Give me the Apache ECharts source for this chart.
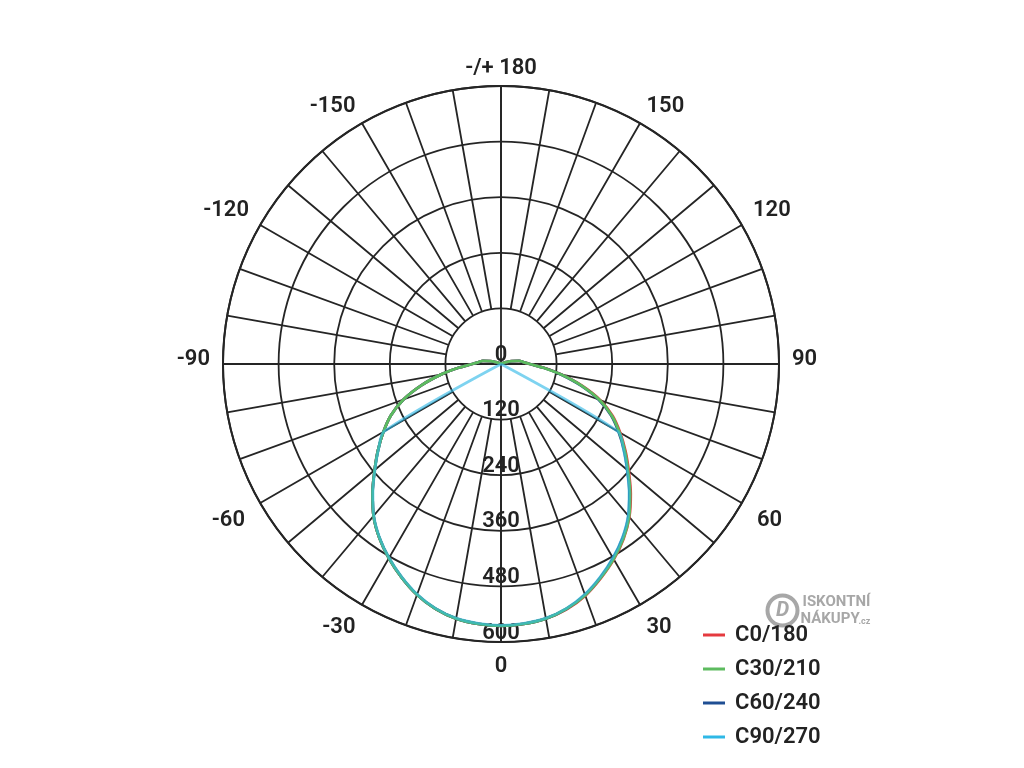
<!DOCTYPE html>
<html>
<head>
<meta charset="utf-8">
<script src="https://cdn.jsdelivr.net/npm/echarts@6/dist/echarts.min.js"></script>
<style>
  html, body { margin: 0; padding: 0; background: #fff; }
  #chart { width: 1024px; height: 768px; }
</style>
</head>
<body>
<div id="chart"></div>
<script>
// Gamma angles (degrees) from -180 to 180, step 5
const gammaAngles = [-180,-175,-170,-165,-160,-155,-150,-145,-140,-135,-130,-125,-120,-115,-110,-105,-100,-95,-90,-85,-80,-75,-70,-65,-60,-55,-50,-45,-40,-35,-30,-25,-20,-15,-10,-5,
  0,5,10,15,20,25,30,35,40,45,50,55,60,65,70,75,80,85,90,95,100,105,110,115,120,125,130,135,140,145,150,155,160,165,170,175,180];

// Luminous intensity (cd) per plane
const c0_180 = [0,0,0,0,0,0,0,0,0,0,0,1,3,6,12,24,40,48,62,92,132,178,224,262,293,324,356,392,428,458,484,508,530,547,558,563,
  565,563,558,548,532,510,487,461,431,396,360,328,297,266,228,181,134,93,62,48,40,24,12,6,3,1,0,0,0,0,0,0,0,0,0,0,0];
const c30_210 = [0,0,0,0,0,0,0,0,0,0,0,1,3,6,12,24,40,48,62,92,132,178,224,262,293,324,356,392,428,458,484,508,530,547,558,563,
  565,563,558,547,531,509,486,460,430,394,358,326,295,264,226,180,133,92,62,48,40,24,12,6,3,1,0,0,0,0,0,0,0,0,0,0,0];
const c60_240 = [0,0,0,0,0,0,0,0,0,0,0,1,3,6,12,24,40,48,62,92,132,178,224,262,293,324,356,392,428,458,484,508,530,547,558,563,
  565,563,558,547,530,508,484,458,428,392,356,324,293,262,224,178,132,92,62,48,40,24,12,6,3,1,0,0,0,0,0,0,0,0,0,0,0];
const c90_270 = [0,0,0,0,0,0,0,0,0,0,0,0,0,0,0,0,0,0,0,0,0,0,0,0,291,323,355,391,427,457,483,507,529,546,557,562,
  564,562,557,546,529,507,483,457,427,391,355,323,291,0,0,0,0,0,0,0,0,0,0,0,0,0,0,0,0,0,0,0,0,0,0,0,0];

const seriesNames = ['C0/180', 'C30/210', 'C60/240', 'C90/270'];
const seriesColors = ['#e53a3f', '#5dbb5f', '#1f4e93', '#2fb8e6'];
const seriesZ = [10, 12, 11, 13];
const radiusTicks = [0, 120, 240, 360, 480, 600];

function toPairs(vals) {
  return vals.map((v, i) => [v, (gammaAngles[i] + 360) % 360]);
}
const valueSets = [c0_180, c30_210, c60_240, c90_270];

const gridColor = '#252525';
const labelFont = { fontFamily: 'Roboto', fontSize: 22, fontWeight: 600, color: '#222' };
const richBase = { fontFamily: 'Roboto', fontSize: 22, fontWeight: 600, color: '#222' };

const chart = echarts.init(document.getElementById('chart'), null, { renderer: 'canvas' });
const CX = 501, CY = 364, R = 278;

chart.setOption({
  animation: false,
  backgroundColor: '#fff',
  polar: [
    { center: [CX, CY], radius: R },
    { center: [CX, CY], radius: [R / 5, R] }
  ],
  angleAxis: [
    {
      polarIndex: 0, type: 'value', min: 0, max: 360, interval: 90,
      startAngle: 270, clockwise: false,
      axisLine: { show: true, lineStyle: { color: gridColor, width: 2 } },
      axisTick: { show: false },
      axisLabel: { show: false },
      splitLine: { show: true, lineStyle: { color: gridColor, width: 1.8 } }
    },
    {
      polarIndex: 1, type: 'value', min: 0, max: 360, interval: 10,
      startAngle: 270, clockwise: false,
      axisLine: { show: false },
      axisTick: { show: false },
      axisLabel: Object.assign({
        show: true, margin: 13,
        formatter: function (v) {
          if (v % 30 !== 0 || v >= 360) return '';
          const t = v === 180 ? '-/+ 180' : (v > 180 ? String(v - 360) : String(v));
          if (v === 90 || v === 270) return '{mid|' + t + '}';
          if (v === 120 || v === 240) return '{up2|' + t + '}';
          if (v >= 150 && v <= 210) return '{up|' + t + '}';
          if (v === 60 || v === 300) return '{low|' + t + '}';
          return t;
        },
        rich: {
          up: Object.assign({ lineHeight: 10 }, richBase),
          up2: Object.assign({ lineHeight: 16 }, richBase),
          mid: Object.assign({ padding: [0, 0, 10, 0] }, richBase),
          low: Object.assign({ padding: [0, 4, 0, 4] }, richBase)
        }
      }, labelFont),
      splitLine: { show: true, lineStyle: { color: gridColor, width: 1.8 } }
    }
  ],
  radiusAxis: [
    {
      polarIndex: 0, type: 'value', min: radiusTicks[0], max: radiusTicks[radiusTicks.length - 1], interval: 120,
      axisLine: { show: false },
      axisTick: { show: false },
      splitLine: { show: true, lineStyle: { color: gridColor, width: 1.8 } },
      axisLabel: Object.assign({
        show: true, margin: 0, align: 'center', verticalAlign: 'bottom', lineHeight: 18, padding: 0
      }, labelFont),
      z: 5
    },
    {
      polarIndex: 1, type: 'value', min: 0, max: 600,
      axisLine: { show: false }, axisTick: { show: false },
      axisLabel: { show: false }, splitLine: { show: false }
    }
  ],
  legend: {
    orient: 'vertical',
    left: 698, top: 618,
    itemWidth: 22, itemHeight: 3, itemGap: 10,
    icon: 'rect',
    textStyle: { fontFamily: 'Roboto', fontSize: 22, fontWeight: 600, color: '#222', lineHeight: 24, padding: [0, 0, 0, 5] },
    data: seriesNames.map((n, i) => ({ name: n, itemStyle: { color: seriesColors[i], opacity: 1 } }))
  },
  series: seriesNames.map((n, i) => ({
    name: n,
    type: 'line',
    coordinateSystem: 'polar',
    polarIndex: 0,
    showSymbol: false,
    symbol: 'none',
    smooth: 0.3,
    z: seriesZ[i],
    color: seriesColors[i],
    lineStyle: { color: seriesColors[i], width: 2.8, opacity: i === 3 ? 0.62 : 1 },
    data: toPairs(valueSets[i])
  })),
  graphic: [
    {
      type: 'group', left: 765, top: 593, silent: true,
      children: [
        { type: 'circle', shape: { cx: 18, cy: 19, r: 15 }, style: { fill: 'none', stroke: '#8a8a8a', lineWidth: 4, opacity: 0.75 } },
        { type: 'text', x: 18, y: 19, style: { text: 'D', fontFamily: 'Roboto', fontWeight: 'bold', fontStyle: 'italic', fontSize: 21, fill: '#8a8a8a', align: 'center', verticalAlign: 'middle', opacity: 0.75 } },
        { type: 'text', x: 38, y: 3, style: { text: 'ISKONTNÍ', fontFamily: 'Roboto', fontWeight: 'bold', fontSize: 15, fill: '#8a8a8a', opacity: 0.75 } },
        { type: 'text', x: 36, y: 20, style: { text: 'NÁKUPY', fontFamily: 'Roboto', fontWeight: 'bold', fontSize: 15, fill: '#8a8a8a', opacity: 0.75 } },
        { type: 'text', x: 94, y: 26, style: { text: '.cz', fontFamily: 'Roboto', fontWeight: 'bold', fontSize: 9, fill: '#8a8a8a', opacity: 0.75 } }
      ]
    }
  ]
});
</script>
</body>
</html>
